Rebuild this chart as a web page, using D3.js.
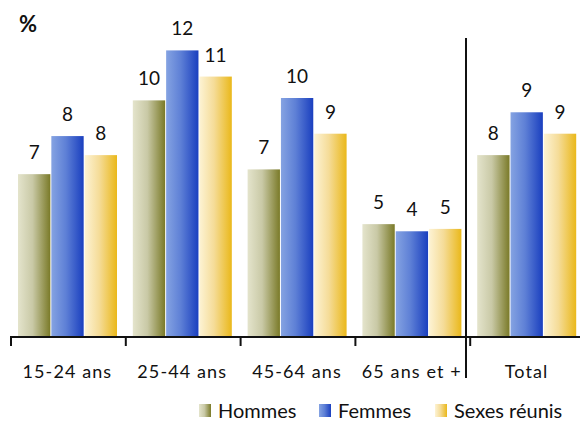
<!DOCTYPE html>
<html lang="fr">
<head>
  <meta charset="UTF-8">
  <title>Taux par âge et sexe</title>
  <style>
    body { margin: 0; background: #fff; }
    svg text { font-family: Lato, "Noto Sans", sans-serif; fill: #111; }
  </style>
</head>
<body>
  <div id="chart"></div>

  <script src="https://d3js.org/d3.v7.min.js"></script>
  <script>
    // données
    const categories = ["15-24 ans", "25-44 ans", "45-64 ans", "65 ans et +", "Total"];
    const seriesNames = ["Hommes", "Femmes", "Sexes réunis"];
    const hommes = [6.8, 9.9, 7.0, 4.7, 7.6];
    const femmes = [8.4, 12.0, 10.0, 4.4, 9.4];
    const sexes = [7.6, 10.9, 8.5, 4.5, 8.5];

    const width = 580;
    const height = 421;
    const baseY = 336;

    // dégradés : clair à gauche, foncé à droite
    const gradients = [
      ["#e4e4cc", "#c9c9a6", "#7a7a28"],
      ["#85a3e2", "#5e80d6", "#1a3fbf"],
      ["#fdf3d4", "#f5dc98", "#eab81a"]
    ];

    const svg = d3.select("#chart")
      .append("svg")
      .attr("width", width)
      .attr("height", height);

    const defs = svg.append("defs");
    gradients.forEach((g, i) => {
      const lg = defs.append("linearGradient")
        .attr("id", "grad" + i)
        .attr("x1", "0%").attr("x2", "100%")
        .attr("y1", "0%").attr("y2", "0%");
      lg.append("stop").attr("offset", "0%").attr("stop-color", g[0]);
      lg.append("stop").attr("offset", "45%").attr("stop-color", g[1]);
      lg.append("stop").attr("offset", "100%").attr("stop-color", g[2]);
    });

    const x = d3.scaleBand()
      .domain(categories)
      .range([10, 10 + 114.8 * categories.length])
      .paddingInner(0)
      .paddingOuter(0);

    const xInner = d3.scaleBand()
      .domain(d3.range(seriesNames.length))
      .range([8, 107])
      .paddingInner(0.03);

    const y = d3.scaleLinear()
      .domain([0, 12])
      .range([baseY, baseY - 12 * 23.8]);

    const rows = categories.map((c, i) => ({
      cat: c,
      vals: [hommes[i], femmes[i], sexes[i]]
    }));

    const groups = svg.selectAll("g.cat")
      .data(rows)
      .enter().append("g")
      .attr("class", "cat")
      .attr("transform", d => `translate(${x(d.cat)},0)`);

    groups.selectAll("rect")
      .data(d => d.vals)
      .enter().append("rect")
      .attr("x", (v, i) => xInner(i))
      .attr("width", xInner.bandwidth())
      .attr("y", v => y(v))
      .attr("height", v => baseY - y(v))
      .attr("fill", (v, i) => `url(#grad${i})`);

    groups.selectAll("text.val")
      .data(d => d.vals)
      .enter().append("text")
      .attr("class", "val")
      .attr("x", (v, i) => xInner(i) + xInner.bandwidth() / 2)
      .attr("y", v => y(v) - 15)
      .attr("text-anchor", "middle")
      .attr("font-size", 19)
      .text(v => Math.round(v));

    // axe horizontal
    const axis = d3.axisBottom(x).tickSize(0).tickFormat("");
    svg.append("g")
      .attr("transform", `translate(0,${baseY})`)
      .call(axis)
      .call(g => g.select(".domain").remove());

    svg.append("line")
      .attr("x1", 10).attr("x2", width)
      .attr("y1", baseY + 1).attr("y2", baseY + 1)
      .attr("stroke", "#111").attr("stroke-width", 2);

    const tickPos = categories.map(c => x(c));
    svg.selectAll("line.tick")
      .data(tickPos)
      .enter().append("line")
      .attr("class", "tick")
      .attr("x1", d => d + 1).attr("x2", d => d + 1)
      .attr("y1", baseY).attr("y2", baseY + 10)
      .attr("stroke", "#111").attr("stroke-width", 2);

    svg.selectAll("text.cat")
      .data(categories)
      .enter().append("text")
      .attr("class", "cat")
      .attr("x", d => x(d) + x.bandwidth() / 2)
      .attr("y", 378)
      .attr("text-anchor", "middle")
      .attr("font-size", 18)
      .attr("letter-spacing", 1.1)
      .text(d => d);

    // séparateur avant Total
    svg.append("line")
      .attr("x1", 466).attr("x2", 466)
      .attr("y1", 38).attr("y2", 378)
      .attr("stroke", "#111").attr("stroke-width", 2);

    svg.append("text")
      .attr("x", 19).attr("y", 32)
      .attr("font-size", 22)
      .attr("font-weight", "bold")
      .text("%");

    // légende
    const legendX = [199, 319, 435];
    const legend = svg.selectAll("g.legend")
      .data(seriesNames)
      .enter().append("g")
      .attr("class", "legend")
      .attr("transform", (d, i) => `translate(${legendX[i]},404)`);

    legend.append("rect")
      .attr("width", 12).attr("height", 13)
      .attr("fill", (d, i) => `url(#grad${i})`);

    legend.append("text")
      .attr("x", 19).attr("y", 13.5)
      .attr("font-size", 20)
      .text(d => d);
  </script>
</body>
</html>
